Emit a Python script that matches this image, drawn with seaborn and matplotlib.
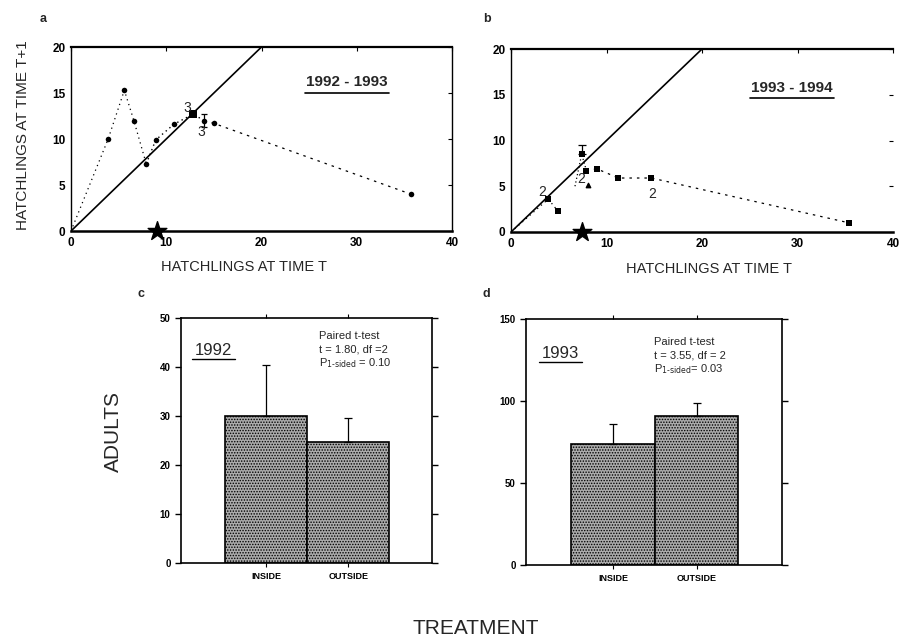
import matplotlib
matplotlib.use("Agg")
import matplotlib.pyplot as plt
import seaborn as sns
import numpy as np

sns.set_theme(style="white")
plt.rcParams["font.family"] = ["Liberation Sans", "DejaVu Sans"]
plt.rcParams["hatch.linewidth"] = 0.7

# ---- panel a: 1992 - 1993 ----
a_x1 = [0.0, 3.9, 5.6, 6.6, 7.9]
a_y1 = [0.0, 10.0, 15.3, 12.0, 7.3]
a_x2 = [7.9, 8.9, 10.8, 12.8, 14.0]
a_y2 = [7.3, 9.9, 11.6, 12.7, 12.0]
a_x3 = [14.0, 15.0, 35.7]
a_y3 = [12.0, 11.7, 4.0]
a_pts_x = [3.9, 5.6, 6.6, 7.9, 8.9, 10.8, 14.0, 15.0, 35.7]
a_pts_y = [10.0, 15.3, 12.0, 7.3, 9.9, 11.6, 12.0, 11.7, 4.0]
a_sq_x, a_sq_y = [12.8], [12.7]
a_err_x, a_err_y, a_err = 14.0, 12.0, 0.7
a_star = 9.0

# ---- panel b: 1993 - 1994 ----
b_x1 = [0.0, 3.9, 4.9]
b_y1 = [0.0, 3.6, 2.3]
b_x2 = [6.7, 7.4, 7.9]
b_y2 = [5.0, 8.5, 6.7]
b_x3 = [7.9, 9.0, 11.25, 14.7, 35.4]
b_y3 = [6.7, 6.9, 5.9, 5.9, 1.0]
b_pts_x = [3.9, 4.9, 7.4, 7.9, 9.0, 11.25, 14.7, 35.4]
b_pts_y = [3.6, 2.3, 8.5, 6.7, 6.9, 5.9, 5.9, 1.0]
b_err_x, b_err_y, b_err = 7.4, 8.5, 1.0
b_star = 7.4

# ---- panels c, d: adults by treatment ----
treatments = ["INSIDE", "OUTSIDE"]
adults_1992 = [30.0, 24.7]
err_1992 = [10.5, 4.8]
adults_1993 = [74.0, 91.0]
err_1993 = [12.0, 8.0]

fig = plt.figure(figsize=(9.01, 6.39), dpi=100)
W, H = 901.0, 639.0


def add_axes(l, r, t, b):
    return fig.add_axes([l / W, 1 - b / H, (r - l) / W, (b - t) / H])


def style_scatter_axes(ax):
    ax.set_xlim(0, 40)
    ax.set_ylim(0, 20)
    ax.set_xticks([0, 10, 20, 30, 40])
    ax.set_yticks([0, 5, 10, 15, 20])
    ax.tick_params(direction="in", length=3, width=0.8, top=True, right=True,
                   labelsize=8.5, pad=4, colors="black")
    for lab in ax.get_xticklabels() + ax.get_yticklabels():
        lab.set_fontweight("bold")
    for s in ax.spines.values():
        s.set_color("black")
        s.set_linewidth(1.0)
    ax.spines["bottom"].set_linewidth(1.8)
    ax.spines["top"].set_linewidth(1.6)
    ax.set_xlabel("")
    ax.set_ylabel("")


# panel a
ax_a = add_axes(71, 452, 47, 231)
diag = [0, 20]
sns.lineplot(x=diag, y=diag, ax=ax_a, color="black", lw=1.2)
sns.lineplot(x=a_x1, y=a_y1, ax=ax_a, sort=False, estimator=None, color="black",
             lw=0.9, linestyle=(0, (1, 3)))
sns.lineplot(x=a_x2, y=a_y2, ax=ax_a, sort=False, estimator=None, color="black",
             lw=1.0, linestyle=(0, (1, 2.5)))
sns.lineplot(x=a_x3, y=a_y3, ax=ax_a, sort=False, estimator=None, color="black",
             lw=0.9, linestyle=(0, (2, 4)))
sns.scatterplot(x=a_pts_x, y=a_pts_y, ax=ax_a, color="black", s=16, marker="o",
                edgecolor="black", linewidth=0)
sns.scatterplot(x=a_sq_x, y=a_sq_y, ax=ax_a, color="black", s=30, marker="s",
                edgecolor="black", linewidth=0)
ax_a.errorbar([a_err_x], [a_err_y], yerr=[[a_err], [a_err]], fmt="none",
              ecolor="black", elinewidth=0.9, capsize=2.5, capthick=0.9)
ax_a.scatter([a_star], [0], marker="*", s=200, color="black", clip_on=False, zorder=5)
ax_a.text(12.2, 13.4, "3", fontsize=10, ha="center", va="center")
ax_a.text(13.7, 10.8, "3", fontsize=10, ha="center", va="center")
ax_a.text(29.0, 16.2, "1992 - 1993", fontsize=11, fontweight="bold", ha="center",
          va="center")
ax_a.plot([24.6, 33.4], [15.0, 15.0], color="black", lw=1.2)
style_scatter_axes(ax_a)

# panel b
ax_b = add_axes(511, 893, 49, 232)
sns.lineplot(x=diag, y=diag, ax=ax_b, color="black", lw=1.2)
sns.lineplot(x=b_x1, y=b_y1, ax=ax_b, sort=False, estimator=None, color="black",
             lw=0.9, linestyle=(0, (1, 3)))
sns.lineplot(x=b_x2, y=b_y2, ax=ax_b, sort=False, estimator=None, color="black",
             lw=0.9, linestyle=(0, (1, 2)))
sns.lineplot(x=b_x3, y=b_y3, ax=ax_b, sort=False, estimator=None, color="black",
             lw=0.9, linestyle=(0, (2, 4)))
sns.scatterplot(x=b_pts_x, y=b_pts_y, ax=ax_b, color="black", s=16, marker="s",
                edgecolor="black", linewidth=0)
ax_b.errorbar([b_err_x], [b_err_y], yerr=[[0], [b_err]], fmt="none",
              ecolor="black", elinewidth=0.9, capsize=3, capthick=0.9)
ax_b.scatter([8.1], [5.1], marker="^", s=10, color="black", zorder=4)
ax_b.scatter([b_star], [0], marker="*", s=200, color="black", clip_on=False, zorder=5)
ax_b.text(3.3, 4.4, "2", fontsize=10, ha="center", va="center")
ax_b.text(7.4, 5.8, "2", fontsize=10, ha="center", va="center")
ax_b.text(14.8, 4.1, "2", fontsize=10, ha="center", va="center")
ax_b.text(29.4, 15.7, "1993 - 1994", fontsize=11, fontweight="bold", ha="center",
          va="center")
ax_b.plot([25.0, 33.8], [14.6, 14.6], color="black", lw=1.2)
style_scatter_axes(ax_b)
ax_b.spines["right"].set_visible(False)

fig.text(244 / W, 1 - 267 / H, "HATCHLINGS AT TIME T", ha="center", va="center",
         fontsize=10.5)
fig.text(709 / W, 1 - 269 / H, "HATCHLINGS AT TIME T", ha="center", va="center",
         fontsize=10.5)
fig.text(23 / W, 1 - 135 / H, "HATCHLINGS AT TIME T+1", ha="center", va="center",
         fontsize=11, rotation=90)


def bar_panel(ax, vals, errs, ymax, yticks, year, lines, yr_pos, txt_pos):
    sns.barplot(x=treatments, y=vals, ax=ax, width=1.0, color="#ababab",
                edgecolor="black", linewidth=1.2, saturation=1)
    for p in ax.patches:
        p.set_hatch("......")
        p.set_edgecolor("black")
    ax.errorbar([0, 1], vals, yerr=[[0, 0], errs], fmt="none", ecolor="black",
                elinewidth=0.9, capsize=3, capthick=0.9)
    ax.set_xlim(-1.04, 2.02)
    ax.set_ylim(0, ymax)
    ax.set_yticks(yticks)
    ax.tick_params(axis="y", direction="out", length=4, width=1.0, left=True,
                   right=True, labelsize=7, colors="black")
    ax.tick_params(axis="x", direction="out", length=3, width=0.8, bottom=True,
                   top=True, labelsize=6.5, colors="black")
    for lab in ax.get_xticklabels() + ax.get_yticklabels():
        lab.set_fontweight("bold")
    for s in ax.spines.values():
        s.set_color("black")
        s.set_linewidth(1.2)
    ax.set_xlabel("")
    ax.set_ylabel("")
    ax.text(yr_pos[0], yr_pos[1], year, fontsize=12, ha="center", va="center",
            transform=ax.transAxes)
    ax.plot([yr_pos[0] - 0.085, yr_pos[0] + 0.085], [yr_pos[1] - 0.035] * 2,
            color="black", lw=1.0, transform=ax.transAxes)
    for i, t in enumerate(lines):
        ax.text(txt_pos[0], txt_pos[1] - i * 0.055, t, fontsize=8, ha="left",
                va="center", transform=ax.transAxes)


ax_c = add_axes(181, 432, 318, 563)
bar_panel(ax_c, adults_1992, err_1992, 50, [0, 10, 20, 30, 40, 50], "1992",
          ["Paired t-test", "t = 1.80, df =2", r"P$_{\rm 1\text{-}sided}$ = 0.10"],
          (0.13, 0.867), (0.55, 0.925))

ax_d = add_axes(526, 782, 319, 565)
bar_panel(ax_d, adults_1993, err_1993, 150, [0, 50, 100, 150], "1993",
          ["Paired t-test", "t = 3.55, df = 2", r"P$_{\rm 1\text{-}sided}$= 0.03"],
          (0.135, 0.86), (0.5, 0.905))

fig.text(113 / W, 1 - 432 / H, "ADULTS", ha="center", va="center", fontsize=15,
         rotation=90)
fig.text(476 / W, 1 - 628 / H, "TREATMENT", ha="center", va="center", fontsize=15)

fig.text(43 / W, 1 - 19 / H, "a", fontsize=9, fontweight="bold", ha="center", va="center")
fig.text(487 / W, 1 - 19 / H, "b", fontsize=9, fontweight="bold", ha="center", va="center")
fig.text(141 / W, 1 - 294 / H, "c", fontsize=9, fontweight="bold", ha="center", va="center")
fig.text(486 / W, 1 - 294 / H, "d", fontsize=9, fontweight="bold", ha="center", va="center")

fig.savefig("out.png", dpi=100, facecolor="white")
